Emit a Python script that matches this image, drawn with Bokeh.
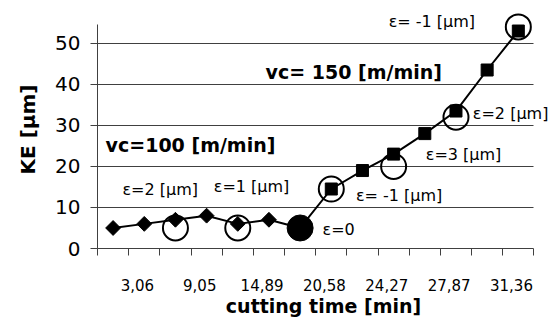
import numpy as np
from bokeh.plotting import figure
from bokeh.models import FixedTicker, Range1d, Label
from bokeh.embed import file_html
from bokeh.resources import INLINE

# ---- data -------------------------------------------------------------
# 14 cutting-time steps on a category axis (positions 1..14)
label_cats = [2, 4, 6, 8, 10, 12, 14]
time_labels = ["3,06", "9,05", "14,89", "20,58", "24,27", "27,87", "31,36"]

vc100_x = [1, 2, 3, 4, 5, 6, 7]
vc100_y = [5, 6, 7, 8, 6, 7, 5]

vc150_x = [7, 8, 9, 10, 11, 12, 13, 14]
vc150_y = [5, 14.5, 19, 23, 28, 33.5, 43.5, 53]

ring_x = [3, 5, 8, 10, 12, 14]
ring_y = [5, 5, 14.5, 20, 32, 54]
dot_x = [7]
dot_y = [5]

note_text = ["ε=2 [μm]", "ε=1 [μm]", "ε=0", "ε= -1 [μm]", "ε=3 [μm]", "ε=2 [μm]", "ε= -1 [μm]"]
note_x = [1.30, 4.23, 7.72, 8.79, 11.03, 12.54, 9.84]
note_y = [14.5, 15.0, 4.7, 13.0, 22.8, 32.8, 55.2]

head_text = ["vc=100 [m/min]", "vc= 150 [m/min]"]
head_x = [0.76, 5.89]
head_y = [25.2, 43.0]

y_ticks = [0, 10, 20, 30, 40, 50]

FONT = "DejaVu Sans"

# ---- figure -----------------------------------------------------------
p = figure(width=552, height=320, x_range=Range1d(0.5, 15.0), y_range=Range1d(0, 58),
           output_backend="svg", toolbar_location=None,
           min_border_left=97, min_border_right=3, min_border_top=10, min_border_bottom=72)
p.outline_line_color = None
p.background_fill_color = "white"
p.border_fill_color = "white"

tick_pos = [c - 0.22 for c in label_cats]
p.xaxis.ticker = FixedTicker(ticks=tick_pos, minor_ticks=[i + 0.5 for i in range(15)])
p.xaxis.major_label_overrides = {t: l for t, l in zip(tick_pos, time_labels)}
p.xaxis.bounds = (0.5, 14.5)
p.xaxis.major_tick_out = 0
p.xaxis.major_tick_in = 0
p.xaxis.minor_tick_out = 7
p.xaxis.minor_tick_in = 0
p.xaxis.minor_tick_line_color = "#404040"
p.xaxis.axis_line_color = "#404040"
p.xaxis.major_label_standoff = 23
p.xaxis.major_label_text_font = FONT
p.xaxis.major_label_text_font_size = "15px"
p.xaxis.major_label_text_color = "black"
p.xaxis.axis_label = "cutting time [min]"
p.xaxis.axis_label_text_font = FONT
p.xaxis.axis_label_text_font_style = "bold"
p.xaxis.axis_label_text_font_size = "19px"
p.xaxis.axis_label_text_color = "black"
p.xaxis.axis_label_standoff = 1

p.yaxis.ticker = FixedTicker(ticks=y_ticks)
p.yaxis.bounds = (0, 54.5)
p.yaxis.major_tick_out = 7
p.yaxis.major_tick_in = 0
p.yaxis.minor_tick_out = 0
p.yaxis.minor_tick_in = 0
p.yaxis.major_tick_line_color = "#404040"
p.yaxis.axis_line_color = "#404040"
p.yaxis.major_label_standoff = 10
p.yaxis.major_label_text_font = FONT
p.yaxis.major_label_text_font_size = "20px"
p.yaxis.major_label_text_color = "black"
p.yaxis.axis_label = "KE [μm]"
p.yaxis.axis_label_text_font = FONT
p.yaxis.axis_label_text_font_style = "bold"
p.yaxis.axis_label_text_font_size = "20px"
p.yaxis.axis_label_text_color = "black"
p.yaxis.axis_label_standoff = 12

p.xgrid.visible = False
p.ygrid.grid_line_color = "#404040"
p.ygrid.grid_line_width = 1
p.ygrid.cross_bounds = (0.5, 14.5)

# ---- series -----------------------------------------------------------
p.line(vc100_x, vc100_y, line_color="black", line_width=2)
p.scatter(vc100_x, vc100_y, marker="square", angle=np.pi / 4, size=10.5,
          fill_color="black", line_color="black")
p.line(vc150_x, vc150_y, line_color="black", line_width=2)
p.scatter(vc150_x, vc150_y, marker="square", size=12, fill_color="black", line_color="black")
p.scatter(ring_x, ring_y, marker="circle", size=25, fill_color=None,
          line_color="black", line_width=2)
p.scatter(dot_x, dot_y, marker="circle", size=26, fill_color="black", line_color="black")

for tx, ty, tt in zip(note_x, note_y, note_text):
    p.add_layout(Label(x=tx, y=ty, text=tt, text_font=FONT, text_font_size="16px",
                       text_align="left", text_baseline="middle", text_color="black"))
for tx, ty, tt in zip(head_x, head_y, head_text):
    p.add_layout(Label(x=tx, y=ty, text=tt, text_font=FONT, text_font_size="19px",
                       text_font_style="bold", text_align="left",
                       text_baseline="middle", text_color="black"))

open("out.html", "w").write(file_html(p, INLINE))
